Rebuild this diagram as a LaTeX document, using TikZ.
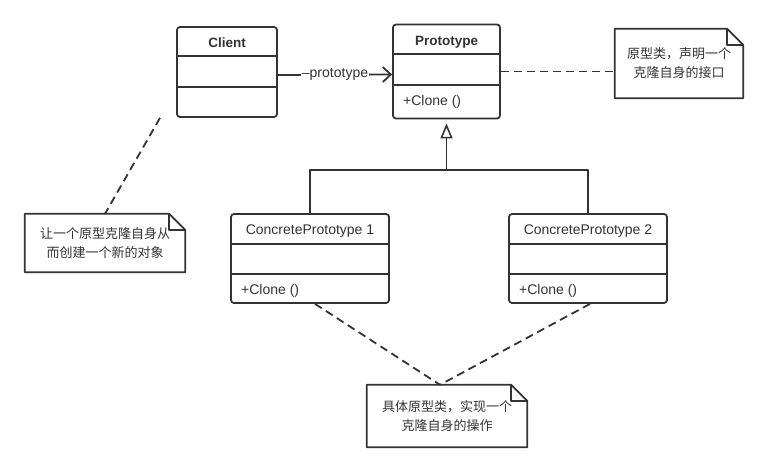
\documentclass[tikz,border=0pt]{standalone}
\usepackage{fontspec}
\setmainfont{Liberation Sans}
\newfontfamily\cjk{Noto Sans CJK SC}
\usetikzlibrary{arrows.meta,positioning}
\definecolor{ink}{HTML}{333333}
\tikzset{
  every picture/.style={line join=round, >=Stealth},
  classbox/.style={draw=ink, line width=1.8pt, rounded corners=3pt, inner sep=0pt},
  classname/.style={font=\fontsize{13.5}{15}\selectfont\bfseries, text=ink, inner sep=0pt},
  plainname/.style={font=\fontsize{14}{16}\selectfont, text=ink, inner sep=0pt},
  member/.style={font=\fontsize{14}{16}\selectfont, text=ink, anchor=west, inner sep=0pt},
  divider/.style={draw=ink, line width=1.8pt},
  notebox/.style={inner sep=0pt, align=center, font=\cjk\fontsize{13}{19}\selectfont, text=ink},
  noteline/.style={draw=ink, line width=1.8pt},
  notelink/.style={draw=ink, line width=1.8pt, dash pattern=on 8pt off 5pt},
  assoc/.style={draw=ink, line width=1.8pt, -{Straight Barb[length=8pt, width=15pt]}},
  inherit/.style={draw=ink, line width=1.8pt},
}

\begin{document}
\begin{tikzpicture}[x=1pt, y=-1pt]
\useasboundingbox (0,0) rectangle (767,471);

% classes
\node[classbox, minimum width=100, minimum height=90] (client) at (227,72) {};
\node[classbox, minimum width=107, minimum height=94] (proto) at (446.5,71.5) {};
\node[classbox, minimum width=158, minimum height=89] (cp1) at (310,258.5) {};
\node[classbox, minimum width=158, minimum height=89] (cp2) at (588,258.5) {};

\draw[divider] (client.west |- 0,56) -- (client.east |- 0,56);
\draw[divider] (client.west |- 0,87) -- (client.east |- 0,87);
\draw[divider] (proto.west |- 0,54) -- (proto.east |- 0,54);
\draw[divider] (proto.west |- 0,85) -- (proto.east |- 0,85);
\foreach \c in {cp1,cp2} {
  \draw[divider] (\c.west |- 0,244) -- (\c.east |- 0,244);
  \draw[divider] (\c.west |- 0,274) -- (\c.east |- 0,274);
}

\node[classname] (clientname) at (client.north |- 0,43) {Client};
\node[classname] (protoname) at (proto.north |- 0,42) {Prototype};
\node[member] (protoclone) at (403,102) {+Clone ()};
\node[plainname] (cp1name) at (cp1.north |- 0,231) {ConcretePrototype 1};
\node[plainname] (cp2name) at (cp2.north |- 0,231) {ConcretePrototype 2};
\node[member] (cp1clone) at (241,291) {+Clone ()};
\node[member] (cp2clone) at (519,291) {+Clone ()};

% notes
\node[notebox, minimum width=128, minimum height=69] (pnote) at (679,63.5)
  {原型类，声明一个\\克隆自身的接口};
\node[notebox, minimum width=160, minimum height=58] (cnote) at (105,243)
  {让一个原型克隆自身从\\而创建一个新的对象};
\node[notebox, minimum width=160, minimum height=62] (bnote) at (447,416)
  {具体原型类，实现一个\\克隆自身的操作};
\foreach \n in {pnote,cnote,bnote} {
  \draw[noteline] (\n.north west) -- ([xshift=-16]\n.north east)
    -- ([yshift=-16]\n.north east) -- (\n.south east) -- (\n.south west) -- cycle;
  \draw[noteline] ([xshift=-16]\n.north east) |- ([yshift=-16]\n.north east);
}

% connectors
\draw[assoc] ([yshift=-3]client.east) -- ([yshift=-3]proto.west)
  node[midway, fill=white, inner sep=1pt, font=\fontsize{14}{16}\selectfont, text=ink] (rolelabel) {--prototype};
\coordinate (join) at (proto.south |- 0,170);
\draw[inherit] (cp1.north) |- (join) -| (cp2.north);
\draw[inherit, -{Triangle[open, length=15pt, width=12pt, line width=1.6pt]}] (join) -- ([yshift=-4]proto.south);

\draw[notelink] (proto.east) -- (proto.east -| pnote.west);
\draw[notelink] ([xshift=-67]client.south) -- (cnote.north);
\draw[notelink] ([xshift=5]cp1.south) -- ([xshift=-7]bnote.north);
\draw[notelink] ([xshift=2]cp2.south) -- ([xshift=-7]bnote.north);
\end{tikzpicture}
\end{document}
